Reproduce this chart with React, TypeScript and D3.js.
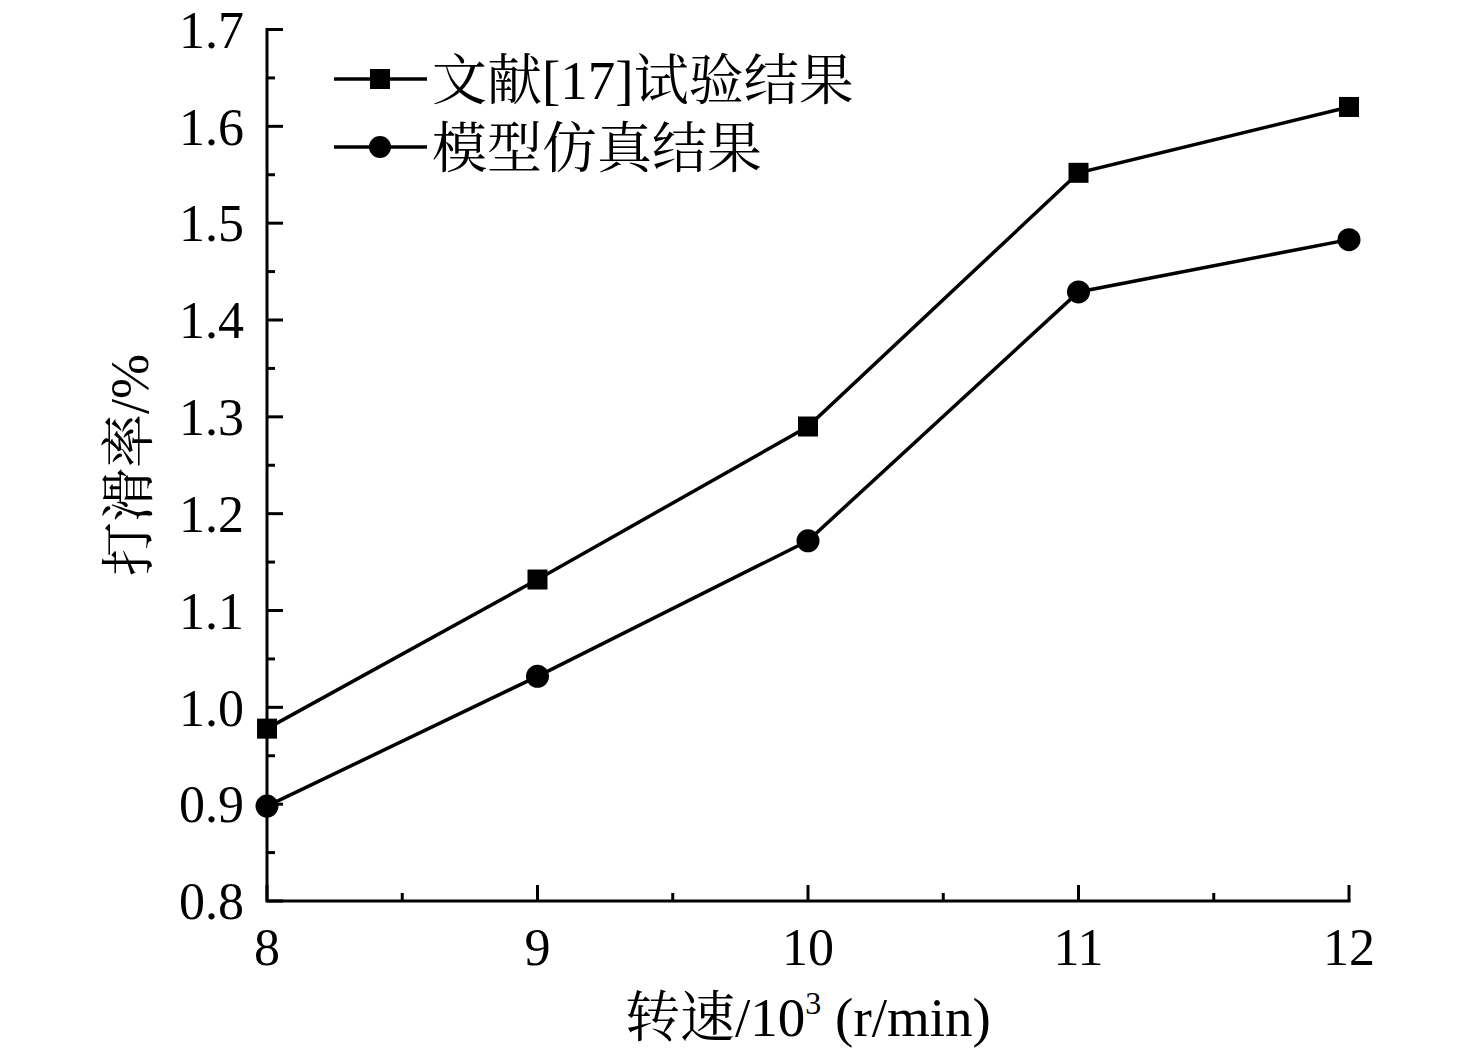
import React from 'react';
import * as d3 from 'd3';

// speed in 10^3 r/min
const speeds: number[] = [8, 9, 10, 11, 12];
// slip rate (%)
const testValues: number[] = [0.978, 1.132, 1.290, 1.552, 1.620];
const simValues: number[] = [0.898, 1.032, 1.172, 1.429, 1.483];

const seriesNames: string[] = ['文献[17]试验结果', '模型仿真结果'];
const xTicks: number[] = [8, 9, 10, 11, 12];
const yTicks: number[] = [0.8, 0.9, 1.0, 1.1, 1.2, 1.3, 1.4, 1.5, 1.6, 1.7];

const FONT = '"Liberation Serif", "Times New Roman", "Noto Serif CJK SC", "Noto Sans CJK SC", serif';

export default function App() {
    const width = 1476;
    const height = 1053;
    const left = 267;
    const right = 1349;
    const top = 29.5;
    const bottom = 901;

    const x = d3.scaleLinear().domain([8, 12]).range([left, right]);
    const y = d3.scaleLinear().domain([0.8, 1.7]).range([bottom, top]);

    const line = d3
        .line<number>()
        .x((_, i) => x(speeds[i]))
        .y((d) => y(d));

    // minor ticks halfway between majors
    const xMinor = d3.range(8.5, 12, 1);
    const yMinor = d3.range(0.85, 1.7, 0.1);

    const majorLen = 16;
    const minorLen = 8;

    return (
        <svg
            width={width}
            height={height}
            viewBox={`0 0 ${width} ${height}`}
            style={{ position: 'absolute', left: 0, top: 0, background: 'white', fontFamily: FONT }}
        >
            {/* axes */}
            <g stroke="#000" strokeWidth={3} fill="none">
                <path d={`M${left},${top}V${bottom}H${right}`} strokeLinecap="square" />
                {xTicks.map((t) => (
                    <line key={'xt' + t} x1={x(t)} x2={x(t)} y1={bottom} y2={bottom - majorLen} />
                ))}
                {xMinor.map((t) => (
                    <line key={'xm' + t} x1={x(t)} x2={x(t)} y1={bottom} y2={bottom - minorLen} />
                ))}
                {yTicks.map((t) => (
                    <line key={'yt' + t} x1={left} x2={left + majorLen} y1={y(t)} y2={y(t)} />
                ))}
                {yMinor.map((t) => (
                    <line key={'ym' + t} x1={left} x2={left + minorLen} y1={y(t)} y2={y(t)} />
                ))}
            </g>

            {/* tick labels */}
            <g fontSize={52} fill="#000">
                {xTicks.map((t) => (
                    <text key={'xl' + t} x={x(t)} y={bottom + 64} textAnchor="middle">
                        {t}
                    </text>
                ))}
                {yTicks.map((t) => (
                    <text key={'yl' + t} x={left - 23} y={y(t)} dy="0.35em" textAnchor="end">
                        {t.toFixed(1)}
                    </text>
                ))}
            </g>

            {/* axis titles */}
            <text x={808} y={1036} fontSize={55} textAnchor="middle">
                转速/10
                <tspan fontSize={32} dy={-22}>3</tspan>
                <tspan dy={22}> (r/min)</tspan>
            </text>
            <text
                transform={`translate(148, 465) rotate(-90)`}
                fontSize={54}
                textAnchor="middle"
            >
                打滑率/%
            </text>

            {/* series */}
            <g fill="none" stroke="#000" strokeWidth={3.5}>
                <path d={line(testValues) || ''} />
                <path d={line(simValues) || ''} />
            </g>
            <g fill="#000">
                {testValues.map((v, i) => (
                    <rect key={'sq' + i} x={x(speeds[i]) - 10} y={y(v) - 10} width={20} height={20} />
                ))}
                {simValues.map((v, i) => (
                    <circle key={'ci' + i} cx={x(speeds[i])} cy={y(v)} r={11.5} />
                ))}
            </g>

            {/* legend */}
            <g>
                {seriesNames.map((name, i) => {
                    const ly = 79 + i * 68;
                    return (
                        <g key={name}>
                            <line x1={334} x2={427} y1={ly} y2={ly} stroke="#000" strokeWidth={3.5} />
                            {i === 0 ? (
                                <rect x={370} y={ly - 10} width={20} height={20} fill="#000" />
                            ) : (
                                <circle cx={380} cy={ly} r={11} fill="#000" />
                            )}
                            <text x={432} y={ly} dy="0.36em" fontSize={55}>
                                {name}
                            </text>
                        </g>
                    );
                })}
            </g>
        </svg>
    );
}
